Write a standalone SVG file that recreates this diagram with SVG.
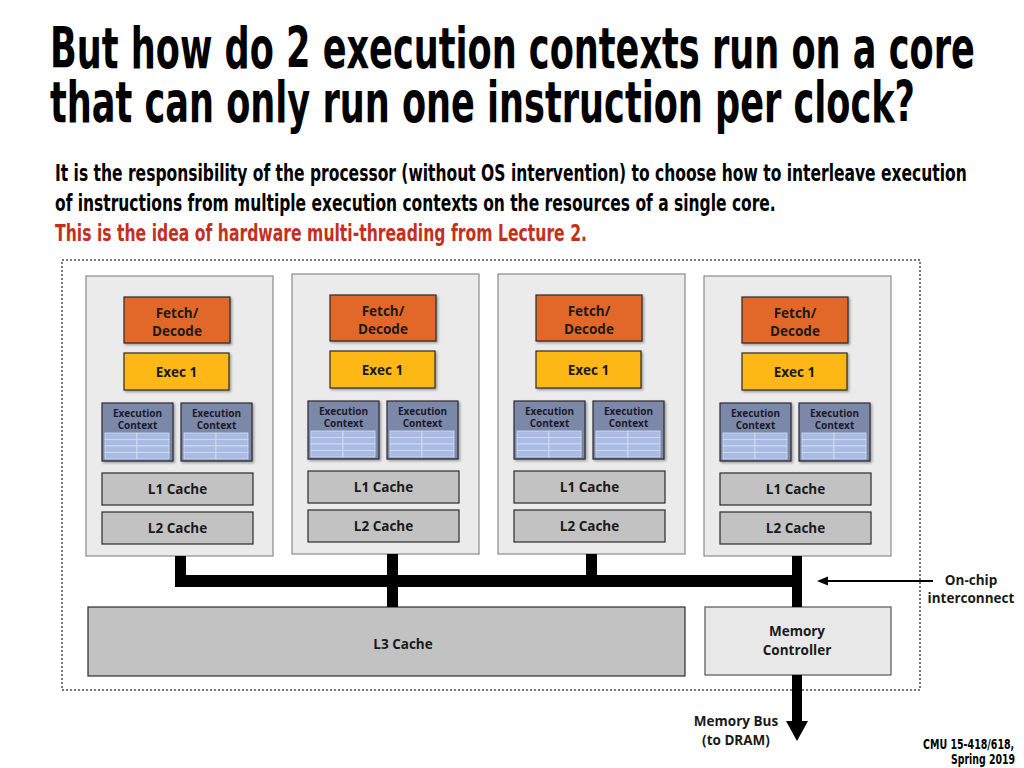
<svg xmlns="http://www.w3.org/2000/svg" width="1024" height="768" viewBox="0 0 1024 768">
<style>
.title{font-family:"DejaVu Sans Condensed","Liberation Sans Narrow","Liberation Sans",sans-serif;font-weight:bold;font-size:56px;fill:#000}
.sub{font-family:"DejaVu Sans Condensed","Liberation Sans Narrow","Liberation Sans",sans-serif;font-weight:bold;font-size:23px;fill:#000}
.red{fill:#C4301C}
.lbl{font-family:"Open Sans","Liberation Sans",sans-serif;font-weight:bold;font-size:13.5px;fill:#1a1a1a;text-anchor:middle}
.ecl{font-family:"Open Sans","Liberation Sans",sans-serif;font-weight:bold;font-size:10px;fill:#1a1a2a;text-anchor:middle}
.note{font-family:"DejaVu Sans Condensed","Liberation Sans Narrow","Liberation Sans",sans-serif;font-weight:bold;font-size:14.5px;fill:#000}
.core{fill:#EBEBEB;stroke:#8A8A8A;stroke-width:1.2}
.fd{fill:#E2682A;stroke:#2b2b2b;stroke-width:1.2}
.ex{fill:#FDB819;stroke:#2b2b2b;stroke-width:1.2}
.ec{fill:#7B88A8;stroke:#2b2b30;stroke-width:1.2}
.cell{fill:#A9BBE2;stroke:#D3DEF5;stroke-width:0.8}
.cache{fill:#C2C2C2;stroke:#2b2b2b;stroke-width:1.2}
.bus{fill:#000}
</style>
<defs>
<filter id="sh" x="-10%" y="-10%" width="130%" height="130%">
<feDropShadow dx="1.5" dy="1.5" stdDeviation="1" flood-color="#000" flood-opacity="0.35"/>
</filter>
<g id="ecbox">
<rect class="ec" x="0" y="0" width="71" height="58" filter="url(#sh)"/>
<text class="ecl" x="35.5" y="14">Execution</text>
<text class="ecl" x="35.5" y="26">Context</text>
<rect class="cell" x="3" y="30" width="32" height="6.5"/>
<rect class="cell" x="35" y="30" width="32" height="6.5"/>
<rect class="cell" x="3" y="36.5" width="32" height="6.5"/>
<rect class="cell" x="35" y="36.5" width="32" height="6.5"/>
<rect class="cell" x="3" y="43" width="32" height="6.5"/>
<rect class="cell" x="35" y="43" width="32" height="6.5"/>
<rect class="cell" x="3" y="49.5" width="32" height="6.5"/>
<rect class="cell" x="35" y="49.5" width="32" height="6.5"/>
</g>
<g id="corebody">
<rect class="core" x="86" y="276" width="187" height="280"/>
<rect class="fd" x="124" y="297" width="106" height="46" filter="url(#sh)"/>
<text class="lbl" x="177" y="318">Fetch/</text>
<text class="lbl" x="177" y="336">Decode</text>
<rect class="ex" x="124" y="353" width="105" height="37" filter="url(#sh)"/>
<text class="lbl" x="176.5" y="377">Exec 1</text>
<use href="#ecbox" x="102" y="403"/>
<use href="#ecbox" x="181" y="403"/>
<rect class="cache" x="102" y="473" width="151" height="32"/>
<text class="lbl" x="177.5" y="494">L1 Cache</text>
<rect class="cache" x="102" y="512" width="151" height="32"/>
<text class="lbl" x="177.5" y="533">L2 Cache</text>
</g>
</defs>
<rect width="1024" height="768" fill="#fff"/>
<g id="title">
<text class="title" transform="translate(50,68) scale(0.68,1)" x="0" y="0" textLength="1360" lengthAdjust="spacingAndGlyphs">But how do 2 execution contexts run on a core</text>
<text class="title" transform="translate(50,122) scale(0.68,1)" x="0" y="0" textLength="1272" lengthAdjust="spacingAndGlyphs">that can only run one instruction per clock?</text>
</g>
<g id="subtitle">
<text class="sub" transform="translate(55,181) scale(0.78,1)" x="0" y="0" textLength="1169" lengthAdjust="spacingAndGlyphs">It is the responsibility of the processor (without OS intervention) to choose how to interleave execution</text>
<text class="sub" transform="translate(55,211) scale(0.78,1)" x="0" y="0" textLength="924" lengthAdjust="spacingAndGlyphs">of instructions from multiple execution contexts on the resources of a single core.</text>
<text class="sub red" transform="translate(55,241) scale(0.78,1)" x="0" y="0" textLength="682" lengthAdjust="spacingAndGlyphs">This is the idea of hardware multi-threading from Lecture 2.</text>
</g>
<g id="chip">
<rect x="62" y="260" width="858" height="430" fill="none" stroke="#777" stroke-width="2" stroke-dasharray="2 2"/>
</g>
<g id="core1"><use href="#corebody"/></g>
<g id="core2"><use href="#corebody" transform="translate(206,-2)"/></g>
<g id="core3"><use href="#corebody" transform="translate(412,-2)"/></g>
<g id="core4"><use href="#corebody" transform="translate(618,0)"/></g>
<g id="l3cache">
<rect class="cache" x="88" y="607" width="597" height="69"/>
<text class="lbl" x="403" y="649">L3 Cache</text>
</g>
<g id="memctrl">
<rect x="705" y="607" width="186" height="68" fill="#E8E8E8" stroke="#555" stroke-width="1.2"/>
<text class="lbl" x="797" y="636">Memory</text>
<text class="lbl" x="797" y="655">Controller</text>
</g>
<g id="connectors">
<rect class="bus" x="175" y="575" width="627" height="12"/>
<rect class="bus" x="175" y="556" width="11" height="31"/>
<rect class="bus" x="387" y="554" width="11" height="53"/>
<rect class="bus" x="586" y="554" width="11" height="33"/>
<rect class="bus" x="792" y="556" width="10" height="51"/>
<rect class="bus" x="792" y="675" width="10" height="48"/>
<polygon class="bus" points="786,721 808,721 797,741"/>
<line x1="933" y1="581" x2="826" y2="581" stroke="#000" stroke-width="2"/>
<polygon points="817,581 828,576.5 828,585.5" fill="#000"/>
</g>
<g id="labels">
<text class="lbl" x="971" y="585">On-chip</text>
<text class="lbl" x="971" y="603">interconnect</text>
<text class="lbl" x="736" y="726">Memory Bus</text>
<text class="lbl" x="736" y="745">(to DRAM)</text>
<text class="note" transform="translate(923,749) scale(0.8,1)" x="0" y="0" textLength="114" lengthAdjust="spacingAndGlyphs">CMU 15-418/618,</text>
<text class="note" transform="translate(951,764) scale(0.8,1)" x="0" y="0" textLength="80" lengthAdjust="spacingAndGlyphs">Spring 2019</text>
</g>
</svg>
